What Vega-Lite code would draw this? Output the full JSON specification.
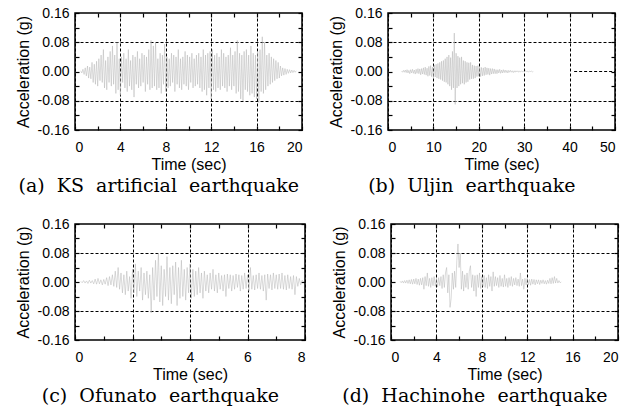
{
"$schema":"https://vega.github.io/schema/vega-lite/v6.json",
"padding":{"left":14,"top":5,"right":0,"bottom":0},
"config":{"font":"Liberation Sans",
"axis":{"labelFont":"Liberation Sans","labelFontSize":14,"labelColor":"#000","titleFont":"Liberation Sans","titleFontSize":16,"titleFontWeight":"normal","titleColor":"#000","tickColor":"#000","tickWidth":1.2,"domain":false},
"title":{"font":"DejaVu Serif","fontSize":19,"fontWeight":"normal","color":"#000"}},
"datasets":{
"a":[{"t":0.5,"a":0.002},{"t":0.6,"a":-0.004},{"t":0.7,"a":0.006},{"t":0.8,"a":-0.008},{"t":0.9,"a":0.01},{"t":1.0,"a":-0.012},{"t":1.1,"a":0.015},{"t":1.2,"a":-0.018},{"t":1.3,"a":0.012},{"t":1.4,"a":-0.02},{"t":1.5,"a":0.025},{"t":1.6,"a":-0.03},{"t":1.7,"a":0.02},{"t":1.8,"a":-0.035},{"t":1.9,"a":0.028},{"t":2.0,"a":-0.04},{"t":2.1,"a":0.035},{"t":2.2,"a":-0.025},{"t":2.3,"a":0.045},{"t":2.4,"a":-0.03},{"t":2.5,"a":0.06},{"t":2.6,"a":-0.045},{"t":2.7,"a":0.03},{"t":2.8,"a":-0.05},{"t":2.9,"a":0.04},{"t":3.0,"a":-0.03},{"t":3.1,"a":0.055},{"t":3.2,"a":-0.04},{"t":3.3,"a":0.07},{"t":3.4,"a":-0.035},{"t":3.5,"a":0.045},{"t":3.6,"a":-0.06},{"t":3.7,"a":0.08},{"t":3.8,"a":-0.05},{"t":3.9,"a":0.035},{"t":4.0,"a":-0.065},{"t":4.1,"a":0.04},{"t":4.2,"a":-0.03},{"t":4.3,"a":0.05},{"t":4.4,"a":-0.045},{"t":4.5,"a":0.035},{"t":4.6,"a":-0.055},{"t":4.7,"a":0.06},{"t":4.8,"a":-0.04},{"t":4.9,"a":0.03},{"t":5.0,"a":-0.05},{"t":5.1,"a":0.045},{"t":5.2,"a":-0.07},{"t":5.3,"a":0.04},{"t":5.4,"a":-0.035},{"t":5.5,"a":0.055},{"t":5.6,"a":-0.045},{"t":5.7,"a":0.035},{"t":5.8,"a":-0.04},{"t":5.9,"a":0.05},{"t":6.0,"a":-0.03},{"t":6.1,"a":0.045},{"t":6.2,"a":-0.055},{"t":6.3,"a":0.04},{"t":6.4,"a":-0.035},{"t":6.5,"a":0.06},{"t":6.6,"a":-0.05},{"t":6.7,"a":0.085},{"t":6.8,"a":-0.045},{"t":6.9,"a":0.07},{"t":7.0,"a":-0.04},{"t":7.1,"a":0.08},{"t":7.2,"a":-0.05},{"t":7.3,"a":0.035},{"t":7.4,"a":-0.045},{"t":7.5,"a":0.05},{"t":7.6,"a":-0.06},{"t":7.7,"a":0.045},{"t":7.8,"a":-0.035},{"t":7.9,"a":0.075},{"t":8.0,"a":-0.055},{"t":8.1,"a":0.04},{"t":8.2,"a":-0.045},{"t":8.3,"a":0.035},{"t":8.4,"a":-0.04},{"t":8.5,"a":0.05},{"t":8.6,"a":-0.03},{"t":8.7,"a":0.045},{"t":8.8,"a":-0.055},{"t":8.9,"a":0.04},{"t":9.0,"a":-0.035},{"t":9.1,"a":0.06},{"t":9.2,"a":-0.045},{"t":9.3,"a":0.035},{"t":9.4,"a":-0.05},{"t":9.5,"a":0.04},{"t":9.6,"a":-0.035},{"t":9.7,"a":0.055},{"t":9.8,"a":-0.04},{"t":9.9,"a":0.045},{"t":10.0,"a":-0.05},{"t":10.1,"a":0.04},{"t":10.2,"a":-0.03},{"t":10.3,"a":0.05},{"t":10.4,"a":-0.045},{"t":10.5,"a":0.035},{"t":10.6,"a":-0.04},{"t":10.7,"a":0.045},{"t":10.8,"a":-0.035},{"t":10.9,"a":0.05},{"t":11.0,"a":-0.045},{"t":11.1,"a":0.04},{"t":11.2,"a":-0.055},{"t":11.3,"a":0.06},{"t":11.4,"a":-0.05},{"t":11.5,"a":0.045},{"t":11.6,"a":-0.065},{"t":11.7,"a":0.05},{"t":11.8,"a":-0.045},{"t":11.9,"a":0.055},{"t":12.0,"a":-0.075},{"t":12.1,"a":0.06},{"t":12.2,"a":-0.05},{"t":12.3,"a":0.045},{"t":12.4,"a":-0.055},{"t":12.5,"a":0.05},{"t":12.6,"a":-0.045},{"t":12.7,"a":0.04},{"t":12.8,"a":-0.05},{"t":12.9,"a":0.06},{"t":13.0,"a":-0.04},{"t":13.1,"a":0.05},{"t":13.2,"a":-0.045},{"t":13.3,"a":0.04},{"t":13.4,"a":-0.055},{"t":13.5,"a":0.045},{"t":13.6,"a":-0.04},{"t":13.7,"a":0.065},{"t":13.8,"a":-0.05},{"t":13.9,"a":0.045},{"t":14.0,"a":-0.04},{"t":14.1,"a":0.055},{"t":14.2,"a":-0.06},{"t":14.3,"a":0.085},{"t":14.4,"a":-0.055},{"t":14.5,"a":0.05},{"t":14.6,"a":-0.075},{"t":14.7,"a":0.045},{"t":14.8,"a":-0.08},{"t":14.9,"a":0.055},{"t":15.0,"a":-0.05},{"t":15.1,"a":0.06},{"t":15.2,"a":-0.055},{"t":15.3,"a":0.045},{"t":15.4,"a":-0.065},{"t":15.5,"a":0.07},{"t":15.6,"a":-0.06},{"t":15.7,"a":0.05},{"t":15.8,"a":-0.07},{"t":15.9,"a":0.045},{"t":16.0,"a":-0.075},{"t":16.1,"a":0.055},{"t":16.2,"a":-0.085},{"t":16.3,"a":0.06},{"t":16.4,"a":-0.055},{"t":16.5,"a":0.095},{"t":16.6,"a":-0.06},{"t":16.7,"a":0.08},{"t":16.8,"a":-0.05},{"t":16.9,"a":0.045},{"t":17.0,"a":-0.04},{"t":17.1,"a":0.05},{"t":17.2,"a":-0.035},{"t":17.3,"a":0.04},{"t":17.4,"a":-0.03},{"t":17.5,"a":0.035},{"t":17.6,"a":-0.025},{"t":17.7,"a":0.03},{"t":17.8,"a":-0.02},{"t":17.9,"a":0.025},{"t":18.0,"a":-0.018},{"t":18.1,"a":0.015},{"t":18.2,"a":-0.012},{"t":18.3,"a":0.01},{"t":18.4,"a":-0.01},{"t":18.5,"a":0.008},{"t":18.6,"a":-0.008},{"t":18.7,"a":0.006},{"t":18.8,"a":-0.005},{"t":18.9,"a":0.005},{"t":19.0,"a":-0.004},{"t":19.1,"a":0.004},{"t":19.2,"a":-0.003},{"t":19.3,"a":0.003},{"t":19.4,"a":-0.002},{"t":19.5,"a":0.002}],
"b":[{"t":3.0,"a":0.001},{"t":3.2,"a":-0.002},{"t":3.4,"a":0.003},{"t":3.6,"a":-0.002},{"t":3.8,"a":0.004},{"t":4.0,"a":-0.003},{"t":4.2,"a":0.005},{"t":4.4,"a":-0.004},{"t":4.6,"a":0.003},{"t":4.8,"a":-0.006},{"t":5.0,"a":0.005},{"t":5.2,"a":-0.004},{"t":5.4,"a":0.006},{"t":5.6,"a":-0.005},{"t":5.8,"a":0.004},{"t":6.0,"a":-0.007},{"t":6.2,"a":0.006},{"t":6.4,"a":-0.005},{"t":6.6,"a":0.008},{"t":6.8,"a":-0.006},{"t":7.0,"a":0.007},{"t":7.2,"a":-0.009},{"t":7.4,"a":0.008},{"t":7.6,"a":-0.007},{"t":7.8,"a":0.01},{"t":8.0,"a":-0.008},{"t":8.2,"a":0.012},{"t":8.4,"a":-0.01},{"t":8.6,"a":0.009},{"t":8.8,"a":-0.013},{"t":9.0,"a":0.014},{"t":9.2,"a":-0.011},{"t":9.4,"a":0.016},{"t":9.6,"a":-0.014},{"t":9.8,"a":0.012},{"t":10.0,"a":-0.017},{"t":10.2,"a":0.018},{"t":10.4,"a":-0.015},{"t":10.6,"a":0.02},{"t":10.8,"a":-0.018},{"t":11.0,"a":0.022},{"t":11.2,"a":-0.02},{"t":11.4,"a":0.025},{"t":11.6,"a":-0.022},{"t":11.8,"a":0.028},{"t":12.0,"a":-0.025},{"t":12.2,"a":0.03},{"t":12.4,"a":-0.028},{"t":12.6,"a":0.035},{"t":12.8,"a":-0.03},{"t":13.0,"a":0.04},{"t":13.2,"a":-0.035},{"t":13.4,"a":0.045},{"t":13.6,"a":-0.04},{"t":13.8,"a":0.038},{"t":14.0,"a":-0.05},{"t":14.2,"a":0.055},{"t":14.4,"a":-0.045},{"t":14.6,"a":0.105},{"t":14.8,"a":-0.09},{"t":15.0,"a":0.05},{"t":15.2,"a":-0.045},{"t":15.4,"a":0.042},{"t":15.6,"a":-0.04},{"t":15.8,"a":0.038},{"t":16.0,"a":-0.035},{"t":16.2,"a":0.04},{"t":16.4,"a":-0.032},{"t":16.6,"a":0.03},{"t":16.8,"a":-0.035},{"t":17.0,"a":0.028},{"t":17.2,"a":-0.03},{"t":17.4,"a":0.025},{"t":17.6,"a":-0.028},{"t":17.8,"a":0.024},{"t":18.0,"a":-0.022},{"t":18.2,"a":0.025},{"t":18.4,"a":-0.02},{"t":18.6,"a":0.018},{"t":18.8,"a":-0.02},{"t":19.0,"a":0.016},{"t":19.2,"a":-0.018},{"t":19.4,"a":0.015},{"t":19.6,"a":-0.014},{"t":19.8,"a":0.016},{"t":20.0,"a":-0.013},{"t":20.2,"a":0.012},{"t":20.4,"a":-0.014},{"t":20.6,"a":0.011},{"t":20.8,"a":-0.012},{"t":21.0,"a":0.01},{"t":21.2,"a":-0.011},{"t":21.4,"a":0.012},{"t":21.6,"a":-0.009},{"t":21.8,"a":0.01},{"t":22.0,"a":-0.008},{"t":22.2,"a":0.009},{"t":22.4,"a":-0.01},{"t":22.6,"a":0.008},{"t":22.8,"a":-0.007},{"t":23.0,"a":0.008},{"t":23.2,"a":-0.006},{"t":23.4,"a":0.007},{"t":23.6,"a":-0.006},{"t":23.8,"a":0.005},{"t":24.0,"a":-0.006},{"t":24.2,"a":0.005},{"t":24.4,"a":-0.004},{"t":24.6,"a":0.006},{"t":24.8,"a":-0.005},{"t":25.0,"a":0.004},{"t":25.2,"a":-0.004},{"t":25.4,"a":0.005},{"t":25.6,"a":-0.003},{"t":25.8,"a":0.004},{"t":26.0,"a":-0.003},{"t":26.2,"a":0.003},{"t":26.4,"a":-0.004},{"t":26.6,"a":0.003},{"t":26.8,"a":-0.002},{"t":27.0,"a":0.003},{"t":27.2,"a":-0.002},{"t":27.4,"a":0.002},{"t":27.6,"a":-0.003},{"t":27.8,"a":0.002},{"t":28.0,"a":-0.002},{"t":28.2,"a":0.002},{"t":28.4,"a":-0.001},{"t":28.6,"a":0.002},{"t":28.8,"a":-0.002},{"t":29.0,"a":0.001},{"t":29.2,"a":-0.001},{"t":29.4,"a":0.002},{"t":29.6,"a":-0.001},{"t":29.8,"a":0.001},{"t":30.0,"a":-0.001},{"t":30.2,"a":0.001},{"t":30.4,"a":0.002},{"t":30.6,"a":-0.001},{"t":30.8,"a":0.001},{"t":31.0,"a":-0.001},{"t":31.2,"a":0.001},{"t":31.4,"a":0.0},{"t":31.6,"a":0.001},{"t":31.8,"a":-0.001},{"t":32.0,"a":0.0}],
"b0":[{"t":41,"t2":50,"a":0}],
"c":[{"t":0.2,"a":0.002},{"t":0.25,"a":-0.002},{"t":0.3,"a":0.004},{"t":0.35,"a":-0.003},{"t":0.4,"a":0.003},{"t":0.45,"a":-0.004},{"t":0.5,"a":0.005},{"t":0.55,"a":-0.003},{"t":0.6,"a":0.004},{"t":0.65,"a":-0.005},{"t":0.7,"a":0.008},{"t":0.75,"a":-0.006},{"t":0.8,"a":0.01},{"t":0.85,"a":-0.005},{"t":0.9,"a":0.006},{"t":0.95,"a":-0.008},{"t":1.0,"a":0.007},{"t":1.05,"a":-0.006},{"t":1.1,"a":0.012},{"t":1.15,"a":-0.01},{"t":1.2,"a":0.015},{"t":1.25,"a":-0.008},{"t":1.3,"a":0.02},{"t":1.35,"a":-0.012},{"t":1.4,"a":0.03},{"t":1.45,"a":-0.015},{"t":1.5,"a":0.04},{"t":1.55,"a":-0.02},{"t":1.6,"a":0.025},{"t":1.65,"a":-0.03},{"t":1.7,"a":0.02},{"t":1.75,"a":-0.035},{"t":1.8,"a":0.03},{"t":1.85,"a":-0.025},{"t":1.9,"a":0.015},{"t":1.95,"a":-0.045},{"t":2.0,"a":0.035},{"t":2.05,"a":-0.03},{"t":2.1,"a":0.05},{"t":2.15,"a":-0.04},{"t":2.2,"a":0.03},{"t":2.25,"a":-0.025},{"t":2.3,"a":0.04},{"t":2.35,"a":-0.05},{"t":2.4,"a":0.025},{"t":2.45,"a":-0.035},{"t":2.5,"a":0.03},{"t":2.55,"a":-0.045},{"t":2.6,"a":0.02},{"t":2.65,"a":-0.085},{"t":2.7,"a":0.04},{"t":2.75,"a":-0.05},{"t":2.8,"a":0.06},{"t":2.85,"a":-0.04},{"t":2.9,"a":0.08},{"t":2.95,"a":-0.055},{"t":3.0,"a":0.045},{"t":3.05,"a":-0.065},{"t":3.1,"a":0.035},{"t":3.15,"a":-0.04},{"t":3.2,"a":0.07},{"t":3.25,"a":-0.05},{"t":3.3,"a":0.04},{"t":3.35,"a":-0.06},{"t":3.4,"a":0.045},{"t":3.45,"a":-0.035},{"t":3.5,"a":0.055},{"t":3.55,"a":-0.065},{"t":3.6,"a":0.04},{"t":3.65,"a":-0.045},{"t":3.7,"a":0.06},{"t":3.75,"a":-0.04},{"t":3.8,"a":0.035},{"t":3.85,"a":-0.05},{"t":3.9,"a":0.04},{"t":3.95,"a":-0.03},{"t":4.0,"a":0.05},{"t":4.05,"a":-0.045},{"t":4.1,"a":0.035},{"t":4.15,"a":-0.04},{"t":4.2,"a":0.03},{"t":4.25,"a":-0.035},{"t":4.3,"a":0.04},{"t":4.35,"a":-0.03},{"t":4.4,"a":0.025},{"t":4.45,"a":-0.045},{"t":4.5,"a":0.03},{"t":4.55,"a":-0.025},{"t":4.6,"a":0.02},{"t":4.65,"a":-0.03},{"t":4.7,"a":0.025},{"t":4.75,"a":-0.02},{"t":4.8,"a":0.035},{"t":4.85,"a":-0.025},{"t":4.9,"a":0.02},{"t":4.95,"a":-0.03},{"t":5.0,"a":0.025},{"t":5.05,"a":-0.02},{"t":5.1,"a":0.018},{"t":5.15,"a":-0.025},{"t":5.2,"a":0.02},{"t":5.25,"a":-0.04},{"t":5.3,"a":0.022},{"t":5.35,"a":-0.018},{"t":5.4,"a":0.02},{"t":5.45,"a":-0.025},{"t":5.5,"a":0.018},{"t":5.55,"a":-0.02},{"t":5.6,"a":0.022},{"t":5.65,"a":-0.015},{"t":5.7,"a":0.02},{"t":5.75,"a":-0.025},{"t":5.8,"a":0.018},{"t":5.85,"a":-0.02},{"t":5.9,"a":0.025},{"t":5.95,"a":-0.018},{"t":6.0,"a":0.02},{"t":6.05,"a":-0.025},{"t":6.1,"a":0.04},{"t":6.15,"a":-0.02},{"t":6.2,"a":0.018},{"t":6.25,"a":-0.022},{"t":6.3,"a":0.02},{"t":6.35,"a":-0.018},{"t":6.4,"a":0.025},{"t":6.45,"a":-0.02},{"t":6.5,"a":0.018},{"t":6.55,"a":-0.025},{"t":6.6,"a":0.02},{"t":6.65,"a":-0.05},{"t":6.7,"a":0.022},{"t":6.75,"a":-0.018},{"t":6.8,"a":0.02},{"t":6.85,"a":-0.022},{"t":6.9,"a":0.025},{"t":6.95,"a":-0.018},{"t":7.0,"a":0.02},{"t":7.05,"a":-0.02},{"t":7.1,"a":0.022},{"t":7.15,"a":-0.018},{"t":7.2,"a":0.025},{"t":7.25,"a":-0.02},{"t":7.3,"a":0.018},{"t":7.35,"a":-0.022},{"t":7.4,"a":0.02},{"t":7.45,"a":-0.018},{"t":7.5,"a":0.015},{"t":7.55,"a":-0.02},{"t":7.6,"a":0.018},{"t":7.65,"a":-0.035},{"t":7.7,"a":0.015},{"t":7.75,"a":-0.012},{"t":7.8,"a":0.01},{"t":7.85,"a":-0.008},{"t":7.9,"a":0.005},{"t":7.95,"a":0.0}],
"d":[{"t":0.8,"a":0.002},{"t":0.9,"a":-0.002},{"t":1.0,"a":0.003},{"t":1.1,"a":-0.003},{"t":1.2,"a":0.004},{"t":1.3,"a":-0.003},{"t":1.4,"a":0.005},{"t":1.5,"a":-0.004},{"t":1.6,"a":0.006},{"t":1.7,"a":-0.005},{"t":1.8,"a":0.007},{"t":1.9,"a":-0.006},{"t":2.0,"a":0.008},{"t":2.1,"a":-0.005},{"t":2.2,"a":0.01},{"t":2.3,"a":-0.007},{"t":2.4,"a":0.008},{"t":2.5,"a":-0.009},{"t":2.6,"a":0.01},{"t":2.7,"a":-0.008},{"t":2.8,"a":0.012},{"t":2.9,"a":-0.02},{"t":3.0,"a":0.015},{"t":3.1,"a":-0.01},{"t":3.2,"a":0.025},{"t":3.3,"a":-0.012},{"t":3.4,"a":0.01},{"t":3.5,"a":-0.015},{"t":3.6,"a":0.012},{"t":3.7,"a":-0.01},{"t":3.8,"a":0.015},{"t":3.9,"a":-0.012},{"t":4.0,"a":0.01},{"t":4.1,"a":-0.014},{"t":4.2,"a":0.012},{"t":4.3,"a":-0.01},{"t":4.4,"a":0.015},{"t":4.5,"a":-0.018},{"t":4.6,"a":0.02},{"t":4.7,"a":-0.015},{"t":4.8,"a":0.025},{"t":4.9,"a":0.04},{"t":5.0,"a":-0.03},{"t":5.1,"a":0.02},{"t":5.2,"a":-0.07},{"t":5.3,"a":-0.045},{"t":5.4,"a":0.025},{"t":5.5,"a":-0.02},{"t":5.6,"a":0.03},{"t":5.7,"a":-0.015},{"t":5.8,"a":0.06},{"t":5.9,"a":0.105},{"t":6.0,"a":0.04},{"t":6.1,"a":0.08},{"t":6.2,"a":-0.02},{"t":6.3,"a":0.03},{"t":6.4,"a":-0.025},{"t":6.5,"a":0.02},{"t":6.6,"a":-0.015},{"t":6.7,"a":0.025},{"t":6.8,"a":-0.02},{"t":6.9,"a":0.03},{"t":7.0,"a":0.045},{"t":7.1,"a":-0.015},{"t":7.2,"a":0.02},{"t":7.3,"a":-0.025},{"t":7.4,"a":0.018},{"t":7.5,"a":-0.04},{"t":7.6,"a":0.02},{"t":7.7,"a":-0.015},{"t":7.8,"a":0.025},{"t":7.9,"a":-0.018},{"t":8.0,"a":0.015},{"t":8.1,"a":-0.012},{"t":8.2,"a":0.018},{"t":8.3,"a":-0.015},{"t":8.4,"a":0.012},{"t":8.5,"a":-0.018},{"t":8.6,"a":0.02},{"t":8.7,"a":-0.012},{"t":8.8,"a":0.015},{"t":8.9,"a":-0.025},{"t":9.0,"a":0.028},{"t":9.1,"a":-0.012},{"t":9.2,"a":0.015},{"t":9.3,"a":-0.01},{"t":9.4,"a":0.012},{"t":9.5,"a":-0.015},{"t":9.6,"a":0.018},{"t":9.7,"a":-0.012},{"t":9.8,"a":0.01},{"t":9.9,"a":-0.014},{"t":10.0,"a":0.02},{"t":10.1,"a":-0.012},{"t":10.2,"a":0.01},{"t":10.3,"a":-0.015},{"t":10.4,"a":0.012},{"t":10.5,"a":-0.01},{"t":10.6,"a":0.015},{"t":10.7,"a":-0.012},{"t":10.8,"a":0.01},{"t":10.9,"a":-0.008},{"t":11.0,"a":0.012},{"t":11.1,"a":-0.01},{"t":11.2,"a":0.008},{"t":11.3,"a":-0.012},{"t":11.4,"a":0.025},{"t":11.5,"a":-0.01},{"t":11.6,"a":0.008},{"t":11.7,"a":-0.02},{"t":11.8,"a":0.01},{"t":11.9,"a":-0.008},{"t":12.0,"a":0.01},{"t":12.1,"a":-0.008},{"t":12.2,"a":0.007},{"t":12.3,"a":-0.009},{"t":12.4,"a":0.008},{"t":12.5,"a":-0.006},{"t":12.6,"a":0.007},{"t":12.7,"a":-0.008},{"t":12.8,"a":0.006},{"t":12.9,"a":-0.005},{"t":13.0,"a":0.006},{"t":13.1,"a":-0.007},{"t":13.2,"a":0.005},{"t":13.3,"a":-0.004},{"t":13.4,"a":0.006},{"t":13.5,"a":-0.005},{"t":13.6,"a":0.004},{"t":13.7,"a":-0.006},{"t":13.8,"a":0.005},{"t":13.9,"a":-0.004},{"t":14.0,"a":0.01},{"t":14.1,"a":-0.005},{"t":14.2,"a":0.012},{"t":14.3,"a":-0.004},{"t":14.4,"a":0.015},{"t":14.5,"a":-0.003},{"t":14.6,"a":0.01},{"t":14.7,"a":-0.003},{"t":14.8,"a":0.004},{"t":14.9,"a":-0.002},{"t":15.0,"a":0.0}]
},
"spacing":19,
"vconcat":[
{"spacing":23,"hconcat":[
{"width":227,"height":117,"view":{"stroke":"#000","strokeWidth":1.5},
"title":{"text":"(a)\u00a0\u00a0KS\u00a0\u00a0artificial\u00a0\u00a0earthquake","orient":"bottom","frame":"bounds","anchor":"middle","offset":5},
"layer":[
{"data":{"name":"a"},"mark":{"type":"line","color":"#b4b4b4","strokeWidth":0.5},
"encoding":{
"x":{"field":"t","type":"quantitative","scale":{"domain":[0,20],"nice":false,"zero":false},"axis":{"orient":"bottom","values":[0,2,4,6,8,10,12,14,16,18,20],"labelExpr":"datum.value % 4 === 0 ? datum.label : ''","title":"Time (sec)","grid":true,"gridColor":"#000","gridDash":[3,2],"gridOpacity":{"condition":{"test":"datum.value % 4 === 0","value":1},"value":0},"tickSize":-4,"labelPadding":14,"titlePadding":2}},
"y":{"field":"a","type":"quantitative","scale":{"domain":[-0.16,0.16],"nice":false,"zero":false},"axis":{"orient":"left","values":[-0.16,-0.12,-0.08,-0.04,0,0.04,0.08,0.12,0.16],"labelExpr":"abs(round(datum.value*100)) % 8 === 0 ? (datum.value < 0 ? '-' : '') + format(abs(datum.value), '.2f') : ''","title":"Acceleration (g)","grid":true,"gridColor":"#000","gridDash":[3,2],"gridOpacity":{"condition":{"test":"abs(round(datum.value*100)) === 8","value":1},"value":0},"tickSize":-4,"labelPadding":10,"titlePadding":6}}}},
{"data":{"name":"a"},"mark":{"type":"line","opacity":0},
"encoding":{
"x":{"field":"t","type":"quantitative","axis":{"orient":"top","values":[0,2,4,6,8,10,12,14,16,18,20],"labels":false,"title":null,"grid":false,"tickSize":-4}},
"y":{"field":"a","type":"quantitative","axis":{"orient":"right","values":[-0.16,-0.12,-0.08,-0.04,0,0.04,0.08,0.12,0.16],"labels":false,"title":null,"grid":false,"tickSize":-4}}}}
],
"resolve":{"axis":{"x":"independent","y":"independent"}}},
{"width":227,"height":117,"view":{"stroke":"#000","strokeWidth":1.5},
"title":{"text":"(b)\u00a0\u00a0Uljin\u00a0\u00a0earthquake","orient":"bottom","frame":"bounds","anchor":"middle","offset":5},
"layer":[
{"data":{"name":"b"},"mark":{"type":"line","color":"#b4b4b4","strokeWidth":0.5},
"encoding":{
"x":{"field":"t","type":"quantitative","scale":{"domain":[0,50],"nice":false,"zero":false},"axis":{"orient":"bottom","values":[0,5,10,15,20,25,30,35,40,45,50],"labelExpr":"datum.value % 10 === 0 ? datum.label : ''","title":"Time (sec)","grid":true,"gridColor":"#000","gridDash":[3,2],"gridOpacity":{"condition":{"test":"datum.value % 10 === 0","value":1},"value":0},"tickSize":-4,"labelPadding":14,"titlePadding":2}},
"y":{"field":"a","type":"quantitative","scale":{"domain":[-0.16,0.16],"nice":false,"zero":false},"axis":{"orient":"left","values":[-0.16,-0.12,-0.08,-0.04,0,0.04,0.08,0.12,0.16],"labelExpr":"abs(round(datum.value*100)) % 8 === 0 ? (datum.value < 0 ? '-' : '') + format(abs(datum.value), '.2f') : ''","title":"Acceleration (g)","grid":true,"gridColor":"#000","gridDash":[3,2],"gridOpacity":{"condition":{"test":"abs(round(datum.value*100)) === 8","value":1},"value":0},"tickSize":-4,"labelPadding":10,"titlePadding":6}}}},
{"data":{"name":"b"},"mark":{"type":"line","opacity":0},
"encoding":{
"x":{"field":"t","type":"quantitative","axis":{"orient":"top","values":[0,5,10,15,20,25,30,35,40,45,50],"labels":false,"title":null,"grid":false,"tickSize":-4}},
"y":{"field":"a","type":"quantitative","axis":{"orient":"right","values":[-0.16,-0.12,-0.08,-0.04,0,0.04,0.08,0.12,0.16],"labels":false,"title":null,"grid":false,"tickSize":-4}}}},
{"data":{"name":"b0"},"mark":{"type":"rule","color":"#000","strokeDash":[3,2],"strokeWidth":1},
"encoding":{"x":{"field":"t","type":"quantitative","axis":null},"x2":{"field":"t2"},"y":{"field":"a","type":"quantitative","axis":null}}}
],
"resolve":{"axis":{"x":"independent","y":"independent"}}}
]},
{"spacing":23,"hconcat":[
{"width":230,"height":116,"view":{"stroke":"#000","strokeWidth":1.5},
"title":{"text":"(c)\u00a0\u00a0Ofunato\u00a0\u00a0earthquake","orient":"bottom","frame":"bounds","anchor":"middle","offset":5},
"layer":[
{"data":{"name":"c"},"mark":{"type":"line","color":"#b4b4b4","strokeWidth":0.5},
"encoding":{
"x":{"field":"t","type":"quantitative","scale":{"domain":[0,8],"nice":false,"zero":false},"axis":{"orient":"bottom","values":[0,1,2,3,4,5,6,7,8],"labelExpr":"datum.value % 2 === 0 ? datum.label : ''","title":"Time (sec)","grid":true,"gridColor":"#000","gridDash":[3,2],"gridOpacity":{"condition":{"test":"datum.value % 2 === 0","value":1},"value":0},"tickSize":-4,"labelPadding":14,"titlePadding":2}},
"y":{"field":"a","type":"quantitative","scale":{"domain":[-0.16,0.16],"nice":false,"zero":false},"axis":{"orient":"left","values":[-0.16,-0.12,-0.08,-0.04,0,0.04,0.08,0.12,0.16],"labelExpr":"abs(round(datum.value*100)) % 8 === 0 ? (datum.value < 0 ? '-' : '') + format(abs(datum.value), '.2f') : ''","title":"Acceleration (g)","grid":true,"gridColor":"#000","gridDash":[3,2],"gridOpacity":{"condition":{"test":"abs(round(datum.value*100)) === 8","value":1},"value":0},"tickSize":-4,"labelPadding":10,"titlePadding":6}}}},
{"data":{"name":"c"},"mark":{"type":"line","opacity":0},
"encoding":{
"x":{"field":"t","type":"quantitative","axis":{"orient":"top","values":[0,1,2,3,4,5,6,7,8],"labels":false,"title":null,"grid":false,"tickSize":-4}},
"y":{"field":"a","type":"quantitative","axis":{"orient":"right","values":[-0.16,-0.12,-0.08,-0.04,0,0.04,0.08,0.12,0.16],"labels":false,"title":null,"grid":false,"tickSize":-4}}}}
],
"resolve":{"axis":{"x":"independent","y":"independent"}}},
{"width":227,"height":116,"view":{"stroke":"#000","strokeWidth":1.5},
"title":{"text":"(d)\u00a0\u00a0Hachinohe\u00a0\u00a0earthquake","orient":"bottom","frame":"bounds","anchor":"middle","offset":5},
"layer":[
{"data":{"name":"d"},"mark":{"type":"line","color":"#b4b4b4","strokeWidth":0.5},
"encoding":{
"x":{"field":"t","type":"quantitative","scale":{"domain":[0,20],"nice":false,"zero":false},"axis":{"orient":"bottom","values":[0,2,4,6,8,10,12,14,16,18,20],"labelExpr":"datum.value % 4 === 0 ? datum.label : ''","title":"Time (sec)","grid":true,"gridColor":"#000","gridDash":[3,2],"gridOpacity":{"condition":{"test":"datum.value % 4 === 0","value":1},"value":0},"tickSize":-4,"labelPadding":14,"titlePadding":2}},
"y":{"field":"a","type":"quantitative","scale":{"domain":[-0.16,0.16],"nice":false,"zero":false},"axis":{"orient":"left","values":[-0.16,-0.12,-0.08,-0.04,0,0.04,0.08,0.12,0.16],"labelExpr":"abs(round(datum.value*100)) % 8 === 0 ? (datum.value < 0 ? '-' : '') + format(abs(datum.value), '.2f') : ''","title":"Acceleration (g)","grid":true,"gridColor":"#000","gridDash":[3,2],"gridOpacity":{"condition":{"test":"abs(round(datum.value*100)) === 8","value":1},"value":0},"tickSize":-4,"labelPadding":10,"titlePadding":6}}}},
{"data":{"name":"d"},"mark":{"type":"line","opacity":0},
"encoding":{
"x":{"field":"t","type":"quantitative","axis":{"orient":"top","values":[0,2,4,6,8,10,12,14,16,18,20],"labels":false,"title":null,"grid":false,"tickSize":-4}},
"y":{"field":"a","type":"quantitative","axis":{"orient":"right","values":[-0.16,-0.12,-0.08,-0.04,0,0.04,0.08,0.12,0.16],"labels":false,"title":null,"grid":false,"tickSize":-4}}}}
],
"resolve":{"axis":{"x":"independent","y":"independent"}}}
]}
]
}
